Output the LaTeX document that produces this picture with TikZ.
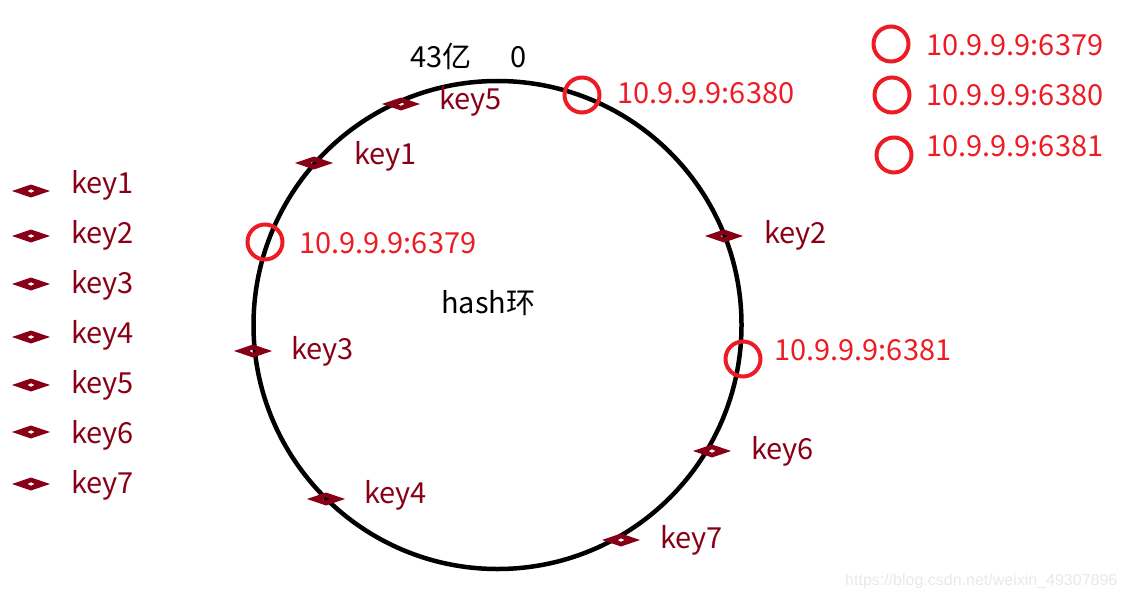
\documentclass[tikz,border=0pt]{standalone}
\usepackage{fontspec}
\setmainfont{Noto Sans CJK SC}
\newfontfamily\wmfont{Liberation Sans}
\definecolor{keyred}{HTML}{880015}
\definecolor{srvred}{HTML}{ED1C24}
\tikzset{
  keymark/.pic={\fill[keyred, even odd rule] (-19,0)--(0,-6.5)--(19,0)--(0,6.5)--cycle (-3.5,0)--(0,-1.8)--(3.5,0)--(0,1.8)--cycle;},
  srv/.style={circle, draw=srvred, line width=4pt, minimum size=35pt, inner sep=0pt},
  lbl/.style={anchor=base west, inner sep=0pt, font=\fontsize{29}{34}\selectfont},
  keylbl/.style={lbl, text=keyred},
  srvlbl/.style={lbl, text=srvred},
  ring/.style={draw=black, line width=4.5pt}
}
\begin{document}
\begin{tikzpicture}[x=1pt,y=-1pt]
\useasboundingbox (0,0) rectangle (1126,599);
% hash ring
\coordinate (c) at (497.5,325);
\draw[ring] (c) circle[radius=244];
\node[lbl] (hash) at (441,313) {hash环};
\node[lbl] (max) at (410,68) {43亿};
\node[lbl] (zero) at (510,68) {0};
% servers on the ring
\node[srv] (s6380) at (582,95) {};
\node[srvlbl] (t6380) at (617,104) {10.9.9.9:6380};
\node[srv] (s6379) at (265,242) {};
\node[srvlbl] (t6379) at (299,253) {10.9.9.9:6379};
\node[srv] (s6381) at (743,359) {};
\node[srvlbl] (t6381) at (774,360) {10.9.9.9:6381};
% keys on the ring
\pic (r5) at (401,104) {keymark}; \node[keylbl] (rk5) at (439,110) {key5};
\pic (r1) at (314,163) {keymark}; \node[keylbl] (rk1) at (354,164) {key1};
\pic (r2) at (724,236) {keymark}; \node[keylbl] (rk2) at (764,243) {key2};
\pic (r3) at (253,351) {keymark}; \node[keylbl] (rk3) at (291,359) {key3};
\pic (r6) at (712,451) {keymark}; \node[keylbl] (rk6) at (751,459) {key6};
\pic (r4) at (326,499) {keymark}; \node[keylbl] (rk4) at (364,503) {key4};
\pic (r7) at (621,540) {keymark}; \node[keylbl] (rk7) at (660,548) {key7};
% key list
\foreach \i/\yy in {1/191,2/236,3/284,4/337,5/385,6/432,7/484}{
  \pic (l\i) at (31,\yy) {keymark};
}
\foreach \i/\b in {1/193,2/243,3/293,4/343,5/393,6/443,7/493}{
  \node[keylbl] (lk\i) at (71,\b) {key\i};
}
% legend
\node[srv] (g6379) at (891,44) {};
\node[srvlbl] (gt6379) at (926,56) {10.9.9.9:6379};
\node[srv] (g6380) at (892,95) {};
\node[srvlbl] (gt6380) at (926,106) {10.9.9.9:6380};
\node[srv] (g6381) at (894,155) {};
\node[srvlbl] (gt6381) at (926,156) {10.9.9.9:6381};
% watermark
\node[anchor=base west, inner sep=0pt, text=black!9, font=\wmfont\fontsize{16}{18}\selectfont] (wm) at (845,585) {https://blog.csdn.net/weixin\_49307896};
\end{tikzpicture}
\end{document}
